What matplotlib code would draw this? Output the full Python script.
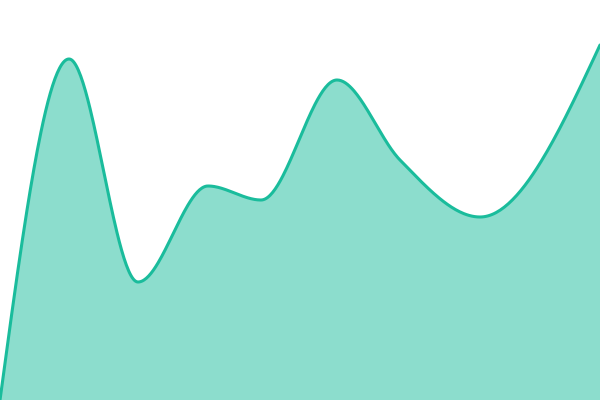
import numpy as np
from matplotlib import pyplot as plt

# data (x position, value)
xs = [0, 69, 138, 208, 261, 337, 400, 480, 600]
values = [0, 341, 118, 214, 200, 320, 240, 183, 355]


def monotone_curve(x, y, n=60):
    # monotone cubic interpolation (same idea as d3.curveMonotoneX)
    x = np.asarray(x, float)
    y = np.asarray(y, float)
    h = np.diff(x)
    s = np.diff(y) / h
    m = np.zeros_like(y)
    for i in range(1, len(x) - 1):
        p = (s[i - 1] * h[i] + s[i] * h[i - 1]) / (h[i - 1] + h[i])
        m[i] = (np.sign(s[i - 1]) + np.sign(s[i])) * min(abs(s[i - 1]), abs(s[i]), 0.5 * abs(p))
    m[0] = (3 * s[0] - m[1]) / 2
    m[-1] = (3 * s[-1] - m[-2]) / 2
    out_x, out_y = [], []
    for i in range(len(x) - 1):
        t = np.linspace(0, 1, n)
        h00 = 2 * t**3 - 3 * t**2 + 1
        h10 = t**3 - 2 * t**2 + t
        h01 = -2 * t**3 + 3 * t**2
        h11 = t**3 - t**2
        out_x.append(x[i] + t * h[i])
        out_y.append(h00 * y[i] + h10 * h[i] * m[i] + h01 * y[i + 1] + h11 * h[i] * m[i + 1])
    return np.concatenate(out_x), np.concatenate(out_y)


cx, cy = monotone_curve(xs, values)

fig = plt.figure(figsize=(6, 4), dpi=100)
ax = fig.add_axes([0, 0, 1, 1])
ax.fill_between(cx, cy, 0, color="#1abc9c", alpha=0.5, linewidth=0)
ax.plot(cx, cy, color="#1abc9c", linewidth=2.2, solid_capstyle="round")
ax.set_xlim(0, 600)
ax.set_ylim(0, 400)
ax.axis("off")
fig.savefig("out.png", dpi=100)
